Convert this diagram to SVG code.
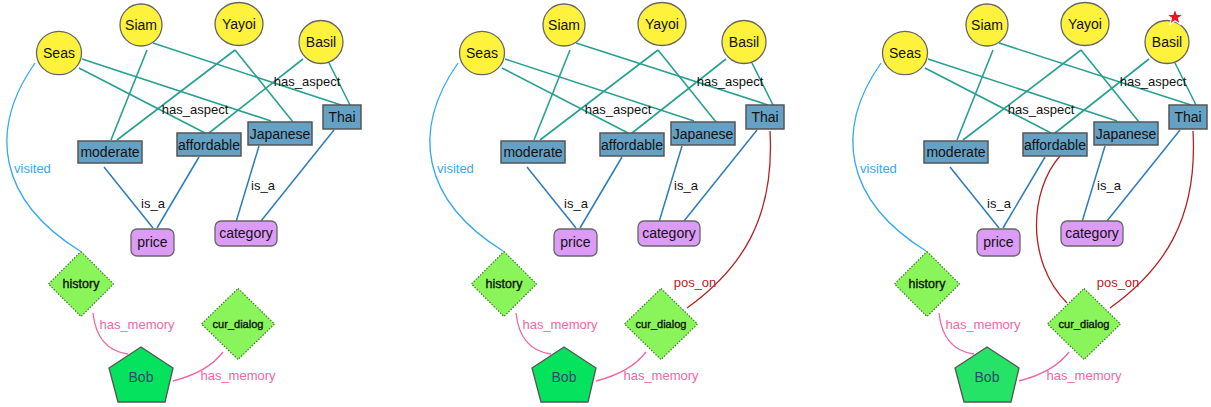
<svg xmlns="http://www.w3.org/2000/svg" width="1211" height="407" viewBox="0 0 1211 407">
<defs>
<style>
text{font-family:"Liberation Sans",Arial,sans-serif;text-anchor:middle}
.rest{fill:#fff23c;stroke:#666;stroke-width:1.3}
.asp{fill:#65a1c4;stroke:#555;stroke-width:1.5}
.cat{fill:#dc9bf5;stroke:#666;stroke-width:1.3}
.mem{fill:#8af55a;stroke:#3d7a2a;stroke-width:1.2;stroke-dasharray:1.5 1.5}
.usr{fill:#05e35e;stroke:#555;stroke-width:1.3}
.nl{font-size:14px;fill:#111}
.ml{font-size:12.5px;fill:#111;stroke:#111;stroke-width:0.35}
.el{font-size:13px;fill:#111}
.teal{stroke:#279f91;stroke-width:1.6;fill:none}
.isa{stroke:#2b7cb8;stroke-width:1.5;fill:none}
.vis{stroke:#35a8f2;stroke-width:1.3;fill:none}
.hm{stroke:#f066a6;stroke-width:1.3;fill:none}
.po{stroke:#b52222;stroke-width:1.3;fill:none}
.vl{font-size:13px;fill:#35a8f2;text-anchor:start}
.hl{font-size:13px;fill:#f066a6}
.pl{font-size:13px;fill:#b52222}
</style>
</defs>
<rect width="1211" height="407" fill="#fff"/>

<!-- Panel 1 -->
<g id="panel1">
<g id="p1-edges">
<line class="teal" x1="82" y1="59" x2="271" y2="121"/>
<line class="teal" x1="79" y1="68" x2="205" y2="133"/>
<line class="teal" x1="147" y1="50" x2="111" y2="140"/>
<line class="teal" x1="153" y1="43" x2="341" y2="105"/>
<line class="teal" x1="235" y1="50" x2="117" y2="140"/>
<line class="teal" x1="235" y1="50" x2="293" y2="122"/>
<line class="teal" x1="303" y1="59" x2="209" y2="133"/>
<line class="teal" x1="329" y1="63" x2="350" y2="105"/>
<text class="el" x="307" y="86">has_aspect</text>
<text class="el" x="195" y="114">has_aspect</text>
<line class="isa" x1="104" y1="167" x2="153" y2="228"/>
<line class="isa" x1="199" y1="157" x2="157" y2="228"/>
<line class="isa" x1="259" y1="146" x2="236" y2="222"/>
<line class="isa" x1="334" y1="130" x2="261" y2="221"/>
<text class="el" x="153" y="208">is_a</text>
<text class="el" x="263" y="190">is_a</text>
<path class="vis" d="M35,63 C-12,130 -2,200 80,251"/>
<text class="vl" x="14" y="173">visited</text>
<path class="hm" d="M93,313 Q97,350 128,354"/>
<path class="hm" d="M223,352 Q208,372 173,381"/>
<text class="hl" x="137" y="329">has_memory</text>
<text class="hl" x="238" y="380">has_memory</text>
</g>
<g id="p1-seas"><ellipse class="rest" cx="59" cy="53" rx="22.5" ry="21.7"/><text class="nl" x="59" y="58">Seas</text></g>
<g id="p1-siam"><ellipse class="rest" cx="141" cy="25" rx="21" ry="21"/><text class="nl" x="141" y="30">Siam</text></g>
<g id="p1-yayoi"><ellipse class="rest" cx="239" cy="24" rx="24" ry="21.5"/><text class="nl" x="239" y="29">Yayoi</text></g>
<g id="p1-basil"><ellipse class="rest" cx="321" cy="42" rx="22" ry="21.5"/><text class="nl" x="321" y="47">Basil</text></g>
<g id="p1-thai"><rect class="asp" x="323" y="105" width="38" height="24"/><text class="nl" x="342" y="122">Thai</text></g>
<g id="p1-japanese"><rect class="asp" x="248" y="122" width="64" height="23"/><text class="nl" x="280" y="139">Japanese</text></g>
<g id="p1-affordable"><rect class="asp" x="177" y="133" width="64" height="23"/><text class="nl" x="209" y="150">affordable</text></g>
<g id="p1-moderate"><rect class="asp" x="78" y="141" width="64" height="22"/><text class="nl" x="110" y="157">moderate</text></g>
<g id="p1-price"><rect class="cat" x="131" y="229" width="43" height="27" rx="6"/><text class="nl" x="152.5" y="247">price</text></g>
<g id="p1-category"><rect class="cat" x="215" y="221" width="62" height="25" rx="6"/><text class="nl" x="246" y="238">category</text></g>
<g id="p1-history"><polygon class="mem" points="81,251.5 113.5,284 81,316.5 48.5,284"/><text class="ml" x="81" y="288">history</text></g>
<g id="p1-cur_dialog"><polygon class="mem" points="238,288.5 274.5,324 238,359.5 201.5,324"/><text class="ml" x="238" y="328" style="font-size:11px">cur_dialog</text></g>
<g id="p1-bob"><polygon class="usr" points="141,347 173,368 165,402 118,402 109,368"/><text class="nl" x="141" y="382" style="fill:#2c4a6b">Bob</text></g>
</g>

<!-- Panel 2 -->
<g id="panel2" transform="translate(423,0)">
<g id="p2-edges">
<line class="teal" x1="82" y1="59" x2="271" y2="121"/>
<line class="teal" x1="79" y1="68" x2="205" y2="133"/>
<line class="teal" x1="147" y1="50" x2="111" y2="140"/>
<line class="teal" x1="153" y1="43" x2="345" y2="105"/>
<line class="teal" x1="235" y1="50" x2="117" y2="140"/>
<line class="teal" x1="235" y1="50" x2="293" y2="122"/>
<line class="teal" x1="303" y1="59" x2="209" y2="133"/>
<line class="teal" x1="329" y1="63" x2="350" y2="105"/>
<text class="el" x="307" y="86">has_aspect</text>
<text class="el" x="195" y="114">has_aspect</text>
<line class="isa" x1="104" y1="167" x2="153" y2="228"/>
<line class="isa" x1="199" y1="157" x2="157" y2="228"/>
<line class="isa" x1="259" y1="146" x2="236" y2="222"/>
<line class="isa" x1="334" y1="130" x2="261" y2="221"/>
<text class="el" x="153" y="208">is_a</text>
<text class="el" x="263" y="190">is_a</text>
<path class="vis" d="M35,63 C-12,130 -2,200 80,251"/>
<text class="vl" x="14" y="173">visited</text>
<path class="hm" d="M93,313 Q97,350 128,354"/>
<path class="hm" d="M223,352 Q208,372 173,381"/>
<text class="hl" x="137" y="329">has_memory</text>
<text class="hl" x="238" y="380">has_memory</text>
<path class="po" d="M347,131 C352,220 317,270 264,308"/>
<text class="pl" x="272" y="287">pos_on</text>
</g>
<g id="p2-seas"><ellipse class="rest" cx="59" cy="53" rx="22.5" ry="21.7"/><text class="nl" x="59" y="58">Seas</text></g>
<g id="p2-siam"><ellipse class="rest" cx="141" cy="25" rx="21" ry="21"/><text class="nl" x="141" y="30">Siam</text></g>
<g id="p2-yayoi"><ellipse class="rest" cx="239" cy="24" rx="24" ry="21.5"/><text class="nl" x="239" y="29">Yayoi</text></g>
<g id="p2-basil"><ellipse class="rest" cx="321" cy="42" rx="22" ry="21.5"/><text class="nl" x="321" y="47">Basil</text></g>
<g id="p2-thai"><rect class="asp" x="323" y="105" width="38" height="24"/><text class="nl" x="342" y="122">Thai</text></g>
<g id="p2-japanese"><rect class="asp" x="248" y="122" width="64" height="23"/><text class="nl" x="280" y="139">Japanese</text></g>
<g id="p2-affordable"><rect class="asp" x="177" y="133" width="64" height="23"/><text class="nl" x="209" y="150">affordable</text></g>
<g id="p2-moderate"><rect class="asp" x="78" y="141" width="64" height="22"/><text class="nl" x="110" y="157">moderate</text></g>
<g id="p2-price"><rect class="cat" x="131" y="229" width="43" height="27" rx="6"/><text class="nl" x="152.5" y="247">price</text></g>
<g id="p2-category"><rect class="cat" x="215" y="221" width="62" height="25" rx="6"/><text class="nl" x="246" y="238">category</text></g>
<g id="p2-history"><polygon class="mem" points="81,251.5 113.5,284 81,316.5 48.5,284"/><text class="ml" x="81" y="288">history</text></g>
<g id="p2-cur_dialog"><polygon class="mem" points="238,288.5 274.5,324 238,359.5 201.5,324"/><text class="ml" x="238" y="328" style="font-size:11px">cur_dialog</text></g>
<g id="p2-bob"><polygon class="usr" points="141,347 173,368 165,402 118,402 109,368"/><text class="nl" x="141" y="382" style="fill:#2c4a6b">Bob</text></g>
</g>

<!-- Panel 3 -->
<g id="panel3" transform="translate(846,0)">
<g id="p3-edges">
<line class="teal" x1="82" y1="59" x2="271" y2="121"/>
<line class="teal" x1="79" y1="68" x2="205" y2="133"/>
<line class="teal" x1="147" y1="50" x2="111" y2="140"/>
<line class="teal" x1="153" y1="43" x2="345" y2="105"/>
<line class="teal" x1="235" y1="50" x2="117" y2="140"/>
<line class="teal" x1="235" y1="50" x2="293" y2="122"/>
<line class="teal" x1="303" y1="59" x2="209" y2="133"/>
<line class="teal" x1="329" y1="63" x2="350" y2="105"/>
<text class="el" x="307" y="86">has_aspect</text>
<text class="el" x="195" y="114">has_aspect</text>
<line class="isa" x1="104" y1="167" x2="153" y2="228"/>
<line class="isa" x1="199" y1="157" x2="157" y2="228"/>
<line class="isa" x1="259" y1="146" x2="236" y2="222"/>
<line class="isa" x1="334" y1="130" x2="261" y2="221"/>
<text class="el" x="153" y="208">is_a</text>
<text class="el" x="263" y="190">is_a</text>
<path class="vis" d="M35,63 C-12,130 -2,200 80,251"/>
<text class="vl" x="14" y="173">visited</text>
<path class="hm" d="M93,313 Q97,350 128,354"/>
<path class="hm" d="M223,352 Q208,372 173,381"/>
<text class="hl" x="137" y="329">has_memory</text>
<text class="hl" x="238" y="380">has_memory</text>
<path class="po" d="M347,131 C352,220 317,270 264,308"/>
<path class="po" d="M214,156 C184,190 179,260 221,303"/>
<text class="pl" x="272" y="287">pos_on</text>
</g>
<g id="p3-seas"><ellipse class="rest" cx="59" cy="53" rx="22.5" ry="21.7"/><text class="nl" x="59" y="58">Seas</text></g>
<g id="p3-siam"><ellipse class="rest" cx="141" cy="25" rx="21" ry="21"/><text class="nl" x="141" y="30">Siam</text></g>
<g id="p3-yayoi"><ellipse class="rest" cx="239" cy="24" rx="24" ry="21.5"/><text class="nl" x="239" y="29">Yayoi</text></g>
<g id="p3-basil"><ellipse class="rest" cx="321" cy="42" rx="22" ry="21.5"/><text class="nl" x="321" y="47">Basil</text>
<polygon points="329,8.5 331.2,14.3 337.3,14.5 332.5,18.3 334.2,24.3 329,20.8 323.8,24.3 325.5,18.3 320.7,14.5 326.8,14.3" fill="#ee1122" stroke="#fff" stroke-width="1.2"/></g>
<g id="p3-thai"><rect class="asp" x="323" y="105" width="38" height="24"/><text class="nl" x="342" y="122">Thai</text></g>
<g id="p3-japanese"><rect class="asp" x="248" y="122" width="64" height="23"/><text class="nl" x="280" y="139">Japanese</text></g>
<g id="p3-affordable"><rect class="asp" x="177" y="133" width="64" height="23"/><text class="nl" x="209" y="150">affordable</text></g>
<g id="p3-moderate"><rect class="asp" x="78" y="141" width="64" height="22"/><text class="nl" x="110" y="157">moderate</text></g>
<g id="p3-price"><rect class="cat" x="131" y="229" width="43" height="27" rx="6"/><text class="nl" x="152.5" y="247">price</text></g>
<g id="p3-category"><rect class="cat" x="215" y="221" width="62" height="25" rx="6"/><text class="nl" x="246" y="238">category</text></g>
<g id="p3-history"><polygon class="mem" points="81,251.5 113.5,284 81,316.5 48.5,284"/><text class="ml" x="81" y="288">history</text></g>
<g id="p3-cur_dialog"><polygon class="mem" points="238,288.5 274.5,324 238,359.5 201.5,324"/><text class="ml" x="238" y="328" style="font-size:11px">cur_dialog</text></g>
<g id="p3-bob"><polygon class="usr" points="141,347 173,368 165,402 118,402 109,368" style="fill:#25e366"/><text class="nl" x="141" y="382" style="fill:#2c4a6b">Bob</text></g>
</g>
</svg>
